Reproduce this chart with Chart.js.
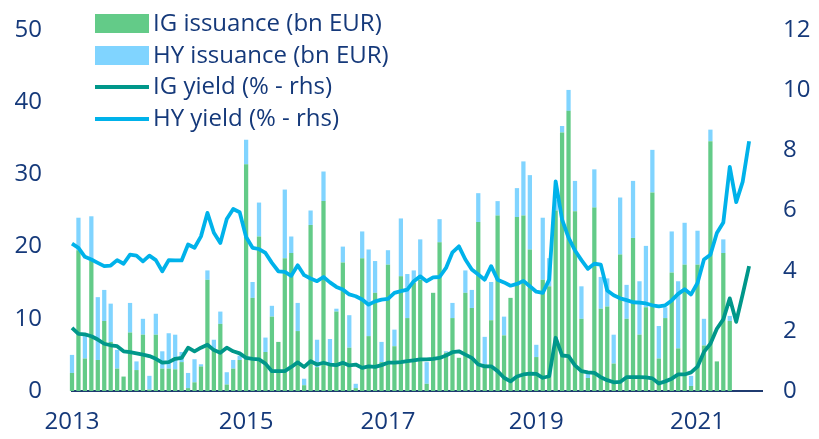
<!DOCTYPE html>
<html>
<head>
<meta charset="utf-8">
<script src="https://cdn.jsdelivr.net/npm/chart.js@4.4.1/dist/chart.umd.min.js"></script>
<style>
  html, body { margin: 0; padding: 0; background: #fff; }
  #wrap { position: relative; width: 819px; height: 439px; }
  #legend { position: absolute; left: 95px; top: 11px; font-family: "Open Sans", sans-serif; font-size: 24px; color: #15397a; }
  .row { position: relative; height: 31.7px; }
  .sw { position: absolute; left: 0; width: 54px; }
  .lbl { position: absolute; left: 58px; top: -3px; white-space: nowrap; line-height: 28px; }
</style>
</head>
<body>
<div id="wrap">
  <canvas id="myChart" width="819" height="439"></canvas>
  <div id="legend"></div>
</div>
<script>
// monthly, Jan 2013 - Dec 2021
var months = [];
for (var y = 2013; y <= 2021; y++) {
  for (var m = 1; m <= 12; m++) months.push(y + '-' + (m < 10 ? '0' + m : m));
}
// where the year labels sit on the axis (index into months)
var yearTicks = { 0: '2013', 27: '2015', 49: '2017', 72: '2019', 97: '2021' };

// issuance, bn EUR
var igIssuance = [2.5,19.5,4.5,18.0,4.3,9.7,6.8,3.1,2.0,8.1,2.9,7.8,
  0.2,7.8,3.1,3.1,3.0,4.0,0.4,1.2,3.4,15.4,5.8,9.3,
  0.9,3.1,4.3,31.4,12.9,21.4,5.4,10.3,6.8,18.4,19.1,8.3,
  0.8,23.0,3.3,26.3,3.6,11.0,17.8,6.0,0.4,18.4,7.6,13.6,
  4.0,17.5,6.2,15.9,10.1,15.0,15.4,1.0,13.6,20.6,5.3,10.1,
  4.6,13.6,11.5,23.4,3.7,9.8,24.3,7.7,12.9,24.1,24.3,19.6,
  4.7,15.4,14.5,25.0,35.8,38.8,24.9,10.0,1.8,25.4,11.4,11.7,
  3.8,18.9,10.0,21.2,7.8,11.6,27.5,4.5,10.1,16.4,5.9,17.5,
  0.7,17.5,6.3,34.6,4.1,19.1,9.7];
var hyIssuance = [2.5,4.5,3.2,6.2,8.7,4.3,5.3,2.6,0,4.1,1.2,2.2,
  1.9,2.9,2.4,4.9,4.8,1.4,2.1,3.2,0.3,1.3,1.3,1.7,
  1.7,1.2,0.6,3.4,2.2,4.7,2.0,1.5,0,9.5,2.3,3.9,
  0.9,2.0,3.8,4.1,3.6,0.4,2.2,4.5,0.6,3.7,12.0,4.4,
  2.8,2.0,2.3,8.0,6.1,1.7,5.6,3.0,0,3.2,0.2,2.1,
  0,3.1,2.5,4.0,3.8,5.3,2.0,2.6,0,4.0,7.5,10.3,
  1.7,8.6,3.9,1.5,0.9,2.9,4.2,4.5,0.6,5.3,4.4,3.9,
  4.0,7.9,4.7,7.9,7.4,8.5,5.9,4.5,1.5,5.7,9.3,5.8,
  1.4,4.7,3.7,1.6,0,1.9,0.7];

// yields, % (rhs)
var igYield = [2.1,1.9,1.88,1.82,1.71,1.57,1.52,1.49,1.32,1.29,1.25,1.21,
  1.16,1.07,0.94,0.96,1.07,1.1,1.44,1.32,1.44,1.54,1.36,1.27,
  1.44,1.32,1.25,1.1,1.07,1.05,0.91,0.66,0.66,0.66,0.8,0.95,
  0.8,0.99,0.88,0.94,0.88,0.86,0.94,0.85,0.88,0.77,0.82,0.8,
  0.86,0.94,0.94,0.96,0.99,1.02,1.05,1.05,1.07,1.1,1.18,1.29,
  1.32,1.21,1.1,0.88,0.82,0.82,0.66,0.44,0.32,0.48,0.55,0.58,
  0.57,0.44,0.49,1.77,1.18,1.16,0.85,0.66,0.62,0.6,0.46,0.36,
  0.29,0.3,0.46,0.46,0.46,0.45,0.42,0.25,0.32,0.41,0.55,0.55,
  0.62,0.81,1.3,1.57,2.07,2.38,3.08,2.3,3.21,4.15];
var hyYield = [4.9,4.76,4.46,4.37,4.26,4.15,4.17,4.35,4.23,4.53,4.5,4.31,
  4.5,4.35,3.98,4.35,4.34,4.34,4.87,4.76,5.14,5.92,5.26,4.92,
  5.72,6.05,5.94,5.12,4.76,4.72,4.59,4.26,3.98,3.96,3.83,4.18,
  3.85,3.74,3.65,3.79,3.61,3.46,3.37,3.21,3.15,3.04,2.87,2.98,
  3.04,3.06,3.26,3.32,3.37,3.65,3.81,3.65,3.78,3.79,4.09,4.61,
  4.81,4.37,4.04,3.87,3.7,4.15,3.7,3.61,3.5,3.56,3.66,3.48,
  3.3,3.26,3.7,6.97,5.7,5.1,4.67,4.35,4.06,4.23,4.2,3.34,
  3.18,3.08,3.02,2.95,2.94,2.91,2.85,2.81,2.85,3.01,3.23,3.38,
  3.21,3.59,4.37,4.53,5.25,5.6,7.45,6.28,6.95,8.3];

var navy = '#15397a';
var fontFam = '"Open Sans", sans-serif';

// the tick padding also pads the axis ends, take that back out
function fitY(w) {
  return function (s) { s.width = w; s.paddingTop = 0; s.paddingBottom = 0; };
}

var ctx = document.getElementById('myChart').getContext('2d');
var myChart = new Chart(ctx, {
  data: {
    labels: months,
    datasets: [
      { type: 'line', label: 'IG yield (% - rhs)', data: igYield, yAxisID: 'y1',
        borderColor: '#00978a', backgroundColor: '#00978a', borderWidth: 3.8,
        pointRadius: 0, tension: 0, borderJoinStyle: 'round', order: 1 },
      { type: 'line', label: 'HY yield (% - rhs)', data: hyYield, yAxisID: 'y1',
        borderColor: '#00b2ea', backgroundColor: '#00b2ea', borderWidth: 3.8,
        pointRadius: 0, tension: 0, borderJoinStyle: 'round', order: 1 },
      { type: 'bar', label: 'IG issuance (bn EUR)', data: igIssuance, yAxisID: 'y',
        backgroundColor: '#63cb88', stack: 's', barPercentage: 0.66, categoryPercentage: 1,
        clip: false, order: 2 },
      { type: 'bar', label: 'HY issuance (bn EUR)', data: hyIssuance, yAxisID: 'y',
        backgroundColor: '#80d4ff', stack: 's', barPercentage: 0.66, categoryPercentage: 1,
        clip: false, order: 2 }
    ]
  },
  options: {
    responsive: false,
    animation: false,
    devicePixelRatio: 1,
    layout: { padding: { top: 30, left: 0, right: 0, bottom: 0 } },
    plugins: { legend: { display: false }, tooltip: { enabled: false } },
    scales: {
      x: {
        offset: false,
        stacked: true,
        grid: { display: false, drawTicks: false },
        border: { display: true, color: '#1f3b70', width: 2 },
        ticks: {
          autoSkip: false, maxRotation: 0, padding: 17,
          color: navy, font: { family: fontFam, size: 24 },
          callback: function (v, i) { return yearTicks[i] || ''; }
        },
        afterFit: function (s) { s.height = 48; }
      },
      y: {
        position: 'left', stacked: true, min: 0, max: 50,
        grid: { display: false, drawTicks: false },
        border: { display: false },
        ticks: { stepSize: 10, padding: 30, color: navy, font: { family: fontFam, size: 24 } },
        afterFit: fitY(72)
      },
      y1: {
        position: 'right', min: 0, max: 12,
        grid: { display: false, drawTicks: false },
        border: { display: false },
        ticks: { stepSize: 2, padding: 21, color: navy, font: { family: fontFam, size: 24 } },
        afterFit: fitY(57)
      }
    }
  }
});

// legend, bars first then lines
var legendOrder = [2, 3, 0, 1];
var lg = document.getElementById('legend');
legendOrder.forEach(function (k) {
  var ds = myChart.data.datasets[k];
  var row = document.createElement('div');
  row.className = 'row';
  var sw = document.createElement('div');
  sw.className = 'sw';
  if (ds.type === 'bar') {
    sw.style.top = '3px'; sw.style.height = '19px'; sw.style.background = ds.backgroundColor;
  } else {
    sw.style.top = '11px'; sw.style.height = '3.5px'; sw.style.background = ds.borderColor;
  }
  var tx = document.createElement('div');
  tx.className = 'lbl';
  tx.textContent = ds.label;
  row.appendChild(sw);
  row.appendChild(tx);
  lg.appendChild(row);
});
</script>
</body>
</html>
